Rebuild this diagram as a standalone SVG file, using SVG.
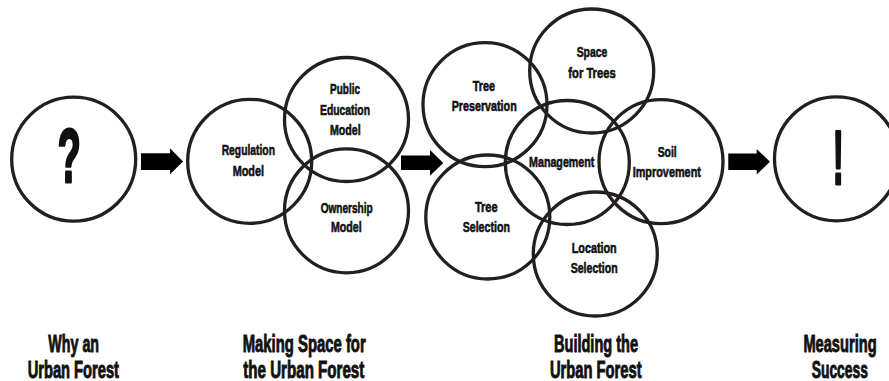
<svg xmlns="http://www.w3.org/2000/svg" width="889" height="381" viewBox="0 0 889 381">
<style>
.c{fill:none;stroke:#231f20;stroke-width:3.3}
.t{font-family:"Liberation Sans Narrow","Liberation Sans",sans-serif;font-weight:bold;font-size:15.5px;fill:#111;stroke:#111;stroke-width:0.6;text-anchor:middle}
.b{font-family:"Liberation Sans Narrow","Liberation Sans",sans-serif;font-weight:bold;font-size:23px;fill:#111;stroke:#111;stroke-width:0.9;text-anchor:middle}
.s{font-family:"Liberation Sans Narrow","Liberation Sans",sans-serif;font-weight:bold;font-size:76px;fill:#111;stroke:#111;stroke-width:3;stroke-linejoin:round;text-anchor:middle}
.a{fill:#000}
</style>
<rect width="889" height="381" fill="#fff"/>
<g id="connectors">
<polygon class="a" points="141,153.3 170,153.3 170,148.3 183,161.5 170,174.3 170,170 141,170"/>
<polygon class="a" points="401,155.5 430,155.5 430,150 443.3,163 430,175.7 430,170 401,170"/>
<polygon class="a" points="728.3,153.5 756.7,153.5 756.7,149 770,161.7 756.7,174.5 756.7,170 728.3,170"/>
</g>
<g id="why">
<circle class="c" cx="73.7" cy="159.2" r="62"/>
<text class="s" x="69.2" y="182.3" textLength="23" lengthAdjust="spacingAndGlyphs">?</text>
</g>
<g id="regulation">
<circle class="c" cx="249.7" cy="161.3" r="62"/>
<text class="t" x="248.3" y="155" textLength="53.3" lengthAdjust="spacingAndGlyphs">Regulation</text>
<text class="t" x="248.3" y="176" textLength="31.3" lengthAdjust="spacingAndGlyphs">Model</text>
</g>
<g id="public-education">
<circle class="c" cx="346.5" cy="119.5" r="62"/>
<text class="t" x="345" y="94" textLength="30" lengthAdjust="spacingAndGlyphs">Public</text>
<text class="t" x="345" y="115" textLength="50" lengthAdjust="spacingAndGlyphs">Education</text>
<text class="t" x="345.3" y="135" textLength="30.7" lengthAdjust="spacingAndGlyphs">Model</text>
</g>
<g id="ownership">
<circle class="c" cx="346.5" cy="210.8" r="62"/>
<text class="t" x="346.7" y="212.7" textLength="52" lengthAdjust="spacingAndGlyphs">Ownership</text>
<text class="t" x="346.3" y="231.7" textLength="30.7" lengthAdjust="spacingAndGlyphs">Model</text>
</g>
<g id="tree-preservation">
<circle class="c" cx="485" cy="104.7" r="62"/>
<text class="t" x="483.8" y="90.7" textLength="22.3" lengthAdjust="spacingAndGlyphs">Tree</text>
<text class="t" x="484.2" y="110.7" textLength="65" lengthAdjust="spacingAndGlyphs">Preservation</text>
</g>
<g id="space-for-trees">
<circle class="c" cx="591.7" cy="71" r="62"/>
<text class="t" x="592" y="56.7" textLength="30.7" lengthAdjust="spacingAndGlyphs">Space</text>
<text class="t" x="592" y="77.7" textLength="47.3" lengthAdjust="spacingAndGlyphs">for Trees</text>
</g>
<g id="tree-selection">
<circle class="c" cx="487.8" cy="217" r="62"/>
<text class="t" x="486.3" y="212" textLength="22.7" lengthAdjust="spacingAndGlyphs">Tree</text>
<text class="t" x="486.3" y="231.7" textLength="47.3" lengthAdjust="spacingAndGlyphs">Selection</text>
</g>
<g id="location-selection">
<circle class="c" cx="595.3" cy="254" r="62"/>
<text class="t" x="594.2" y="253.3" textLength="45" lengthAdjust="spacingAndGlyphs">Location</text>
<text class="t" x="594.2" y="273.3" textLength="47" lengthAdjust="spacingAndGlyphs">Selection</text>
</g>
<g id="management">
<circle class="c" cx="567.3" cy="162.5" r="62"/>
<text class="t" x="561.7" y="166.7" textLength="65.3" lengthAdjust="spacingAndGlyphs">Management</text>
</g>
<g id="soil-improvement">
<circle class="c" cx="661" cy="161.7" r="62"/>
<text class="t" x="667.2" y="156.7" textLength="19" lengthAdjust="spacingAndGlyphs">Soil</text>
<text class="t" x="666.8" y="176.7" textLength="68.3" lengthAdjust="spacingAndGlyphs">Improvement</text>
</g>
<g id="measuring">
<circle class="c" cx="836.5" cy="158.8" r="62"/>
<text class="s" x="838.3" y="184.3" textLength="11" lengthAdjust="spacingAndGlyphs">!</text>
</g>
<g id="stage-labels">
<text class="b" x="73.7" y="351.7" textLength="50.7" lengthAdjust="spacingAndGlyphs">Why an</text>
<text class="b" x="73.3" y="377.7" textLength="91.3" lengthAdjust="spacingAndGlyphs">Urban Forest</text>
<text class="b" x="304.2" y="351.7" textLength="123" lengthAdjust="spacingAndGlyphs">Making Space for</text>
<text class="b" x="303.8" y="377.7" textLength="121" lengthAdjust="spacingAndGlyphs">the Urban Forest</text>
<text class="b" x="596" y="351.7" textLength="84" lengthAdjust="spacingAndGlyphs">Building the</text>
<text class="b" x="595.8" y="377.7" textLength="91.7" lengthAdjust="spacingAndGlyphs">Urban Forest</text>
<text class="b" transform="translate(840,351.7) scale(0.637,1)" x="0" y="0">Measuring</text>
<text class="b" transform="translate(839.8,377.7) scale(0.603,1)" x="0" y="0">Success</text>
</g>
</svg>
